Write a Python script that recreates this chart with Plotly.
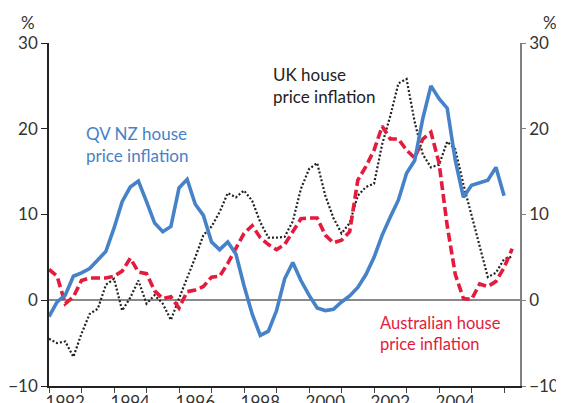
import plotly.graph_objects as go

# Quarterly observations starting 1992 Q1
start_year = 1992.0
nz_qv = [-1.9, -0.2, 0.6, 2.8, 3.2, 3.7, 4.7, 5.7, 8.4, 11.5, 13.2, 13.9,
         11.5, 9.0, 8.0, 8.6, 13.1, 14.1, 11.2, 9.9, 6.8, 5.9, 6.8, 5.4,
         1.7, -1.6, -4.1, -3.6, -1.2, 2.5, 4.4, 2.3, 0.6, -0.9, -1.2, -1.05,
         -0.2, 0.5, 1.5, 3.0, 5.0, 7.6, 9.7, 11.7, 14.8, 16.3, 21.2, 25.0,
         23.5, 22.4, 16.3, 12.0, 13.4, 13.7, 14.0, 15.5, 12.2]
aus = [3.6, 2.8, -0.4, 0.4, 2.3, 2.6, 2.6, 2.6, 2.8, 3.4, 4.9, 3.3,
       3.1, 1.1, 0.2, 0.4, -0.9, 1.0, 1.2, 1.6, 2.7, 2.8, 4.3, 6.0,
       7.8, 8.7, 7.3, 6.5, 5.9, 6.5, 8.0, 9.5, 9.6, 9.6, 7.6, 6.7,
       7.0, 8.0, 14.0, 15.6, 17.5, 20.3, 18.8, 18.8, 17.5, 16.6, 18.8, 19.6,
       16.0, 8.7, 3.0, 0.2, 0.1, 1.9, 1.6, 2.2, 3.8, 6.0]
uk = [-4.5, -5.0, -4.8, -6.6, -3.9, -1.6, -1.0, 1.8, 2.5, -1.2, 0.3, 2.3,
      -0.4, 0.6, -0.4, -2.3, 0.2, 2.5, 5.0, 7.6, 8.6, 10.3, 12.5, 12.0,
      12.8, 11.6, 9.1, 7.3, 7.3, 7.4, 9.2, 13.0, 15.3, 16.0, 12.2, 9.6,
      7.8, 9.0, 12.2, 13.2, 13.6, 18.2, 21.5, 25.3, 25.8, 20.8, 17.0, 15.5,
      15.8, 18.5, 17.6, 13.5, 10.0, 6.3, 2.7, 3.2, 4.8, 5.1]

year_labels = ["1992", "1994", "1996", "1998", "2000", "2002", "2004"]
y_ticks = [-10, 0, 10, 20, 30]


def qx(n):
    return [start_year + i * 0.25 for i in range(n)]


BLUE = "#4682c8"
RED = "#e31b3d"
DARK = "#222222"
FONT = "Lato"

fig = go.Figure()
fig.add_trace(go.Scatter(x=qx(len(uk)), y=uk, mode="lines",
                         line=dict(color=DARK, width=2.2, dash="2px,2px"),
                         hoverinfo="skip"))
fig.add_trace(go.Scatter(x=qx(len(aus)), y=aus, mode="lines",
                         line=dict(color=RED, width=3.6, dash="9px,4px"),
                         hoverinfo="skip"))
fig.add_trace(go.Scatter(x=qx(len(nz_qv)), y=nz_qv, mode="lines",
                         line=dict(color=BLUE, width=3.6),
                         hoverinfo="skip"))
# invisible trace to carry the right-hand axis
fig.add_trace(go.Scatter(x=[start_year], y=[0], yaxis="y2", mode="markers",
                         marker=dict(opacity=0), hoverinfo="skip"))

label_x = [int(l) + 0.5 for l in year_labels]
tfont = dict(family=FONT, size=17, color="#333333")

fig.update_layout(
    width=556, height=395,
    margin=dict(l=41, r=44, t=35, b=17, autoexpand=False),
    paper_bgcolor="white", plot_bgcolor="white",
    showlegend=False,
    font=dict(family=FONT, size=17, color="#333333"),
    xaxis=dict(
        range=[1992, 2006.49], automargin=False,
        tickvals=label_x, ticktext=year_labels,
        ticks="", showgrid=False, zeroline=False,
        showline=True, linecolor="#222222", linewidth=1.5,
        tickfont=tfont,
        minor=dict(ticks="outside", ticklen=5, tickwidth=1.2,
                   tickcolor="#444444", tick0=1992, dtick=1, showgrid=False),
    ),
    yaxis=dict(
        range=[-10, 30], tickvals=y_ticks, automargin=False,
        ticks="outside", ticklen=6, tickwidth=1.2, tickcolor="#222222",
        showline=True, linecolor="#222222", linewidth=1.5,
        showgrid=False, zeroline=True, zerolinecolor="#8a8a8a",
        zerolinewidth=1.6,
        tickfont=tfont,
    ),
    yaxis2=dict(
        range=[-10, 30], tickvals=y_ticks, overlaying="y", side="right",
        automargin=False,
        ticks="outside", ticklen=4, tickwidth=1.2, tickcolor="#808080",
        showline=True, linecolor="#808080", linewidth=1.5,
        showgrid=False, zeroline=False,
        tickfont=tfont,
    ),
    annotations=[
        dict(text="%", xref="paper", yref="paper", x=-0.045, y=1.061,
             xanchor="center", yanchor="middle", showarrow=False,
             font=dict(family=FONT, size=17, color="#333333")),
        dict(text="%", xref="paper", yref="paper", x=1.0637, y=1.061,
             xanchor="center", yanchor="middle", showarrow=False,
             font=dict(family=FONT, size=17, color="#333333")),
        dict(text="QV NZ house<br>price inflation", xref="x", yref="y",
             x=1993.08, y=20.9, xanchor="left", yanchor="top", align="left",
             showarrow=False, font=dict(family=FONT, size=17, color=BLUE)),
        dict(text="UK house<br>price inflation", xref="x", yref="y",
             x=1998.82, y=27.8, xanchor="left", yanchor="top", align="left",
             showarrow=False, font=dict(family=FONT, size=17, color=DARK)),
        dict(text="Australian house<br>price inflation", xref="x", yref="y",
             x=2002.12, y=-1.3, xanchor="left", yanchor="top", align="left",
             showarrow=False, font=dict(family=FONT, size=16.5, color=RED)),
    ],
)

fig.write_html("out.html")
